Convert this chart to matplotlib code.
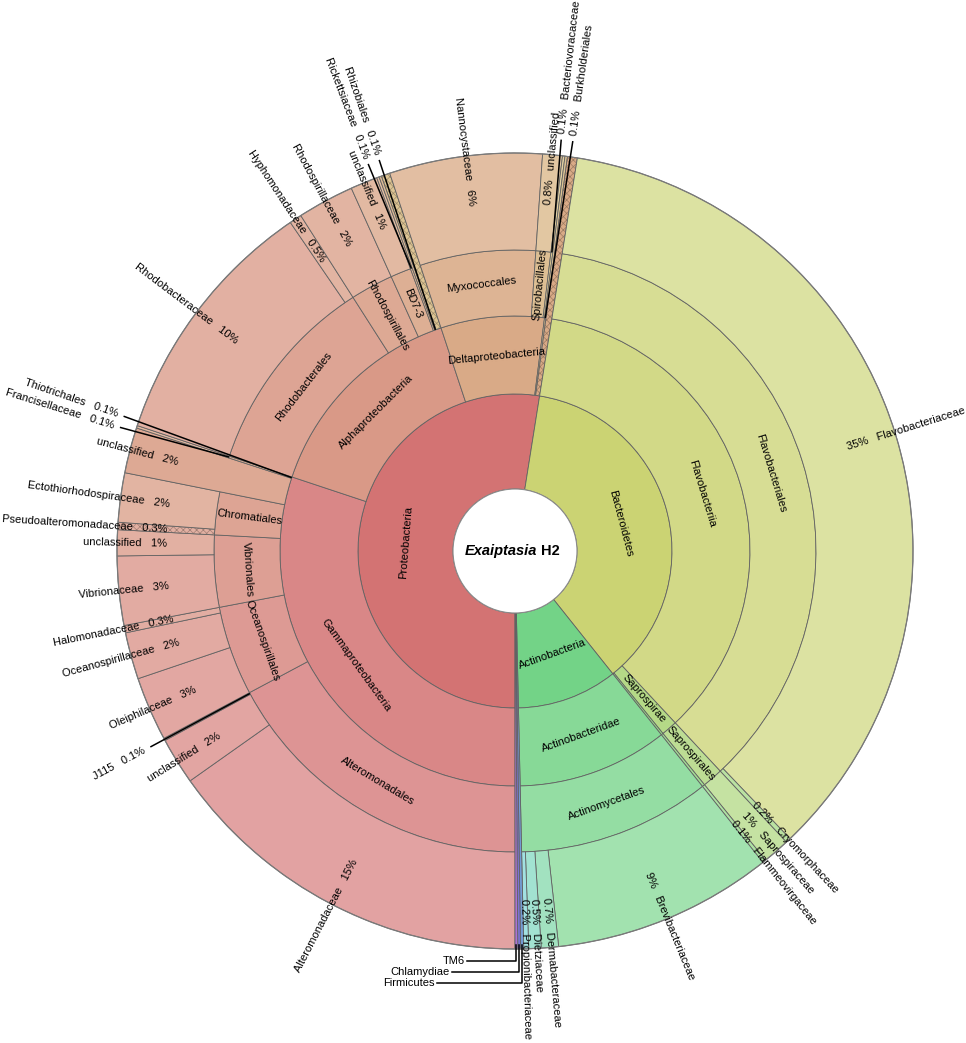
import colorsys
import numpy as np
import matplotlib
matplotlib.use('Agg')
import matplotlib.pyplot as plt
from matplotlib.patches import Wedge, Circle

plt.rcParams['font.family'] = ['Liberation Sans', 'DejaVu Sans']
plt.rcParams['hatch.linewidth'] = 0.5

# leaf lineages in clockwise order from the bottom; a trailing '' is an unassigned remainder
lineages = [
    'Proteobacteria;Gammaproteobacteria;Alteromonadales;Alteromonadaceae',
    'Proteobacteria;Gammaproteobacteria;Alteromonadales;unclassified',
    'Proteobacteria;Gammaproteobacteria;Alteromonadales;J115',
    'Proteobacteria;Gammaproteobacteria;Oceanospirillales;Oleiphilaceae',
    'Proteobacteria;Gammaproteobacteria;Oceanospirillales;Oceanospirillaceae',
    'Proteobacteria;Gammaproteobacteria;Oceanospirillales;Halomonadaceae',
    'Proteobacteria;Gammaproteobacteria;Vibrionales;Vibrionaceae',
    'Proteobacteria;Gammaproteobacteria;Vibrionales;unclassified',
    'Proteobacteria;Gammaproteobacteria;Chromatiales;Pseudoalteromonadaceae',
    'Proteobacteria;Gammaproteobacteria;Chromatiales;Ectothiorhodospiraceae',
    'Proteobacteria;Gammaproteobacteria;unclassified',
    'Proteobacteria;Gammaproteobacteria;Thiotrichales;Francisellaceae',
    'Proteobacteria;Alphaproteobacteria;Rhodobacterales;Rhodobacteraceae',
    'Proteobacteria;Alphaproteobacteria;Rhodobacterales;Hyphomonadaceae',
    'Proteobacteria;Alphaproteobacteria;Rhodospirillales;Rhodospirillaceae',
    'Proteobacteria;Alphaproteobacteria;BD7-3;unclassified',
    'Proteobacteria;Alphaproteobacteria;Rickettsiales;Rickettsiaceae',
    'Proteobacteria;Alphaproteobacteria;Rhizobiales',
    'Proteobacteria;Alphaproteobacteria;',
    'Proteobacteria;Deltaproteobacteria;Myxococcales;Nannocystaceae',
    'Proteobacteria;Deltaproteobacteria;Spirobacillales;unclassified',
    'Proteobacteria;Deltaproteobacteria;Bdellovibrionales;Bacteriovoracaceae',
    'Proteobacteria;Betaproteobacteria;Burkholderiales',
    'Proteobacteria;',
    'Bacteroidetes;Flavobacteriia;Flavobacteriales;Flavobacteriaceae',
    'Bacteroidetes;Flavobacteriia;Flavobacteriales;Cryomorphaceae',
    'Bacteroidetes;Saprospirae;Saprospirales;Saprospiraceae',
    'Bacteroidetes;Cytophagia;Cytophagales;Flammeovirgaceae',
    'Actinobacteria;Actinobacteridae;Actinomycetales;Brevibacteriaceae',
    'Actinobacteria;Actinobacteridae;Actinomycetales;Dermabacteraceae',
    'Actinobacteria;Actinobacteridae;Actinomycetales;Dietziaceae',
    'Actinobacteria;Actinobacteridae;Actinomycetales;Propionibacteriaceae',
    'Firmicutes',
    'Chlamydiae',
    'TM6',
]
percent = [15.2, 1.9, 0.1, 2.6, 1.9, 0.3, 2.8, 1.05, 0.3, 2.0, 1.85, 0.1,
           10.35, 0.5, 2.3, 1.1, 0.1, 0.1, 0.35,
           6.2, 0.8, 0.1, 0.1, 0.4,
           35.35, 0.2, 1.1, 0.14,
           8.95, 0.7, 0.5, 0.2,
           0.13, 0.11, 0.11]

sample_name = 'Exaiptasia'
sample_tag = 'H2'

# styling
phylum_hue = {'Proteobacteria': 0, 'Bacteroidetes': 65, 'Actinobacteria': 132,
              'Firmicutes': 215, 'Chlamydiae': 245, 'TM6': 275}
hue_span = 65
lightness = {1: 0.64, 2: 0.69, 3: 0.725, 4: 0.76}
hatched_names = {'Pseudoalteromonadaceae'}
outside_names = {'J115', 'Thiotrichales', 'Francisellaceae', 'Rickettsiaceae',
                 'Rhizobiales', 'Bacteriovoracaceae', 'Burkholderiales'}
elbow_names = ['TM6', 'Chlamydiae', 'Firmicutes']
radial_names = {'Chromatiales', 'Rhodospirillales', 'BD7-3', 'Spirobacillales',
                'Saprospirae', 'Saprospirales'}

W, H = 966, 1043
cx, cy = 515, H - 551
radii = [62, 157, 235, 301, 398]
R = radii[-1]
edge = '#626262'
fs = 8

# build the tree: key = path tuple -> [t0, t1]
spans = {}
children = {(): []}
t = 0.0
for lin, v in zip(lineages, percent):
    path = tuple(lin.split(';'))
    for d in range(1, len(path) + 1):
        key = path[:d]
        if key not in spans:
            spans[key] = [t, t]
            children[key[:-1]].append(key)
            children[key] = []
        spans[key][1] = t + v
    t += v
total = t


def theta(tt):
    return 270.0 - 360.0 * tt / total


# hue by position among siblings
hues = {}


def assign(key, h, span):
    kids = children[key]
    step = span / max(len(kids), 1)
    for i, k in enumerate(kids):
        hues[k] = h + i * step
        if k[-1] == '':
            hues[k] = h + 26
        assign(k, hues[k], min(step * 2, hue_span))


for k in children[()]:
    hues[k] = phylum_hue[k[0]]
    assign(k, hues[k], hue_span)


def colour(key, dark=1.0):
    d = min(len(key), 4)
    r, g, b = colorsys.hls_to_rgb((hues[key] % 360) / 360, lightness[d], 0.52)
    return (r * dark, g * dark, b * dark)


fig = plt.figure(figsize=(W / 100, H / 100), dpi=100)
ax = fig.add_axes([0, 0, 1, 1])
ax.set_xlim(0, W)
ax.set_ylim(0, H)
ax.axis('off')


def polar(r, th):
    a = np.radians(th)
    return cx + r * np.cos(a), cy + r * np.sin(a)


def upright(rot):
    while rot > 90:
        rot -= 180
    while rot <= -90:
        rot += 180
    return rot


def pct_text(v):
    p = 100 * v / total
    return f'{p:.1f}%' if p < 1 else f'{p:.0f}%'


inside, outside, elbows = [], [], []

for key, (t0, t1) in spans.items():
    d = len(key)
    name = key[-1]
    leaf = not children[key]
    r_in = radii[d - 1]
    r_out = R if leaf else radii[d]
    th1, th2 = theta(t1), theta(t0)
    if name == '' or name in hatched_names:
        ax.add_patch(Wedge((cx, cy), r_out, th1, th2, width=r_out - r_in,
                           facecolor=colour(key), edgecolor=colour(key, 0.72),
                           hatch='xxxxx', lw=0))
        ax.add_patch(Wedge((cx, cy), r_out, th1, th2, width=r_out - r_in,
                           fill=False, edgecolor=edge, lw=0.6))
    else:
        ax.add_patch(Wedge((cx, cy), r_out, th1, th2, width=r_out - r_in,
                           facecolor=colour(key), edgecolor=edge, lw=0.6))
    if name == '':
        continue
    tm = (t0 + t1) / 2
    value = t1 - t0
    if name in elbow_names:
        elbows.append((name, tm))
    elif name in outside_names:
        outside.append({'name': name, 't': tm, 't0': tm, 'r_in': r_in, 'depth': d,
                        'v': value})
    elif leaf:
        inside.append({'name': name, 't': tm, 'depth': d, 'v': value})
    elif 100 * value / total >= 0.5:
        thm = theta(tm)
        x, y = polar((r_in + r_out) / 2, thm)
        rot = upright(thm) if name in radial_names else upright(thm - 90)
        ax.text(x, y, name, fontsize=fs, rotation=rot, rotation_mode='anchor',
                ha='center', va='center')


def spread(items, gap):
    items.sort(key=lambda it: (it['t'], -it['depth']))
    for _ in range(100):
        moved = False
        for a, b in zip(items, items[1:]):
            dd = b['t'] - a['t']
            if dd < gap:
                s = (gap - dd) / 2
                a['t'] -= s
                b['t'] += s
                moved = True
        if not moved:
            break


gap = 0.45 * total / 100
spread(inside, gap)
spread(outside, gap)


def radial_label(r, th, name, value):
    x, y = polar(r, th)
    if np.cos(np.radians(th)) >= 0:
        ax.text(x, y, pct_text(value) + '   ' + name, fontsize=fs, rotation=upright(th),
                rotation_mode='anchor', ha='left', va='center')
    else:
        ax.text(x, y, name + '   ' + pct_text(value), fontsize=fs, rotation=upright(th),
                rotation_mode='anchor', ha='right', va='center')


for it in inside:
    radial_label(348, theta(it['t']), it['name'], it['v'])

for it in outside:
    x0, y0 = polar(it['r_in'], theta(it['t0']))
    x1, y1 = polar(414, theta(it['t']))
    ax.plot([x0, x1], [y0, y1], color='black', lw=1.1, solid_capstyle='butt')
    radial_label(420, theta(it['t']), it['name'], it['v'])

# bottom phyla labelled with elbow leaders
for name, tm in elbows:
    i = elbow_names.index(name)
    x0, y0 = polar(R - 4, theta(tm))
    yb = cy - R - 12 - 11 * i
    xe = cx - 48 - 15 * i
    ax.plot([x0, x0, xe], [y0, yb, yb], color='black', lw=1.1)
    ax.text(xe - 2, yb, name, fontsize=fs, ha='right', va='center')

# centre hole and outline
ax.add_patch(Circle((cx, cy), radii[0], facecolor='white', edgecolor='#8a8a8a', lw=0.8))
ax.add_patch(Circle((cx, cy), R, fill=False, edgecolor='#7a7a7a', lw=0.9))
ax.text(cx + 22, cy, sample_name, fontsize=10.5, fontweight='bold', fontstyle='italic',
        ha='right', va='center')
ax.text(cx + 26, cy, sample_tag, fontsize=10.5, fontweight='bold', ha='left', va='center')

fig.savefig('out.png', dpi=100)
